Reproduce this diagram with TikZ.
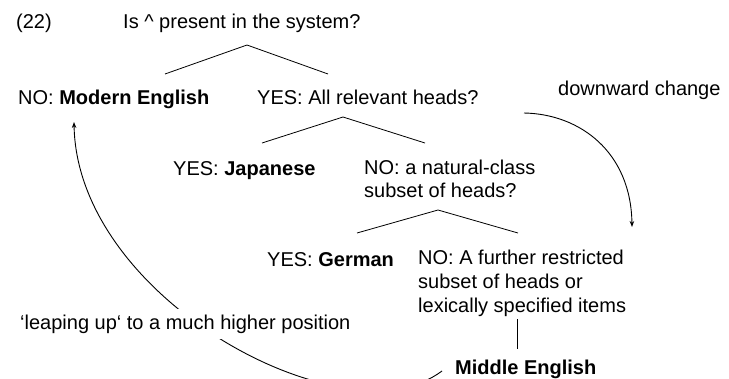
\documentclass[tikz,border=0pt]{standalone}
\usepackage{fontspec}
\setmainfont{Liberation Sans}
\usetikzlibrary{arrows.meta,backgrounds}
\begin{document}
\begin{tikzpicture}[x=1pt,y=-1pt,
  txt/.style={anchor=base west,inner sep=0pt,font=\fontsize{20}{23.5}\selectfont,align=left},
  txtwide/.style={txt,font=\fontsize{20}{24}\selectfont},
  gaplabel/.style={txt,fill=white,inner xsep=3pt,inner ysep=6pt},
  branch/.style={line width=0.8pt},
  arcarrow/.style={line width=0.9pt,-{Stealth[length=6pt,width=4.5pt]}}]
\useasboundingbox (0,0) rectangle (729,378);
% texts
\node[txt] (n22) at (16,28) {(22)};
\node[txt] (q1) at (123,28) {Is \textasciicircum\ present in the system?};
\node[txt] (modern) at (18,104) {NO: \textbf{Modern English}};
\node[txt] (q2) at (257,104) {YES: All relevant heads?};
\node[txt] (down) at (558,95) {downward change};
\node[txt] (jap) at (173,175) {YES: \textbf{Japanese}};
\node[txt] (q3) at (364,197.5) {NO: a natural-class\\subset of heads?};
\node[txt] (ger) at (267,266) {YES: \textbf{German}};
\node[txtwide] (q4) at (418,312) {NO: A further restricted\\subset of heads or\\lexically specified items};
\node[gaplabel] (leap) at (17,329) {‘leaping up‘ to a much higher position};
\node[txt] (middle) at (455,374) {\textbf{Middle English}};
% branch points
\coordinate (t1l) at (165,74); \coordinate (t1) at (247,45); \coordinate (t1r) at (328,74);
\coordinate (t2l) at (262,143); \coordinate (t2) at (343,117); \coordinate (t2r) at (425,143);
\coordinate (t3l) at (357,233); \coordinate (t3) at (438,210); \coordinate (t3r) at (518,233);
\coordinate (v1) at (517,319); \coordinate (v2) at (517,349);
\draw[branch] (t1l) -- (t1) -- (t1r);
\draw[branch] (t2l) -- (t2) -- (t2r);
\draw[branch] (t3l) -- (t3) -- (t3r);
\draw[branch] (v1) -- (v2);
% curved arrows
\coordinate (ds) at (524,113); \coordinate (de) at (632,227);
\draw[arcarrow] (ds) .. controls (580,114) and (631,152) .. (de);
\coordinate (ls) at (442,371); \coordinate (mt) at (74,122);
\begin{scope}[on background layer]
  \clip (0,0) rectangle (729,378);
  \draw[arcarrow] (ls) .. controls (346,443) and (77,300) .. (mt);
\end{scope}
\end{tikzpicture}
\end{document}
